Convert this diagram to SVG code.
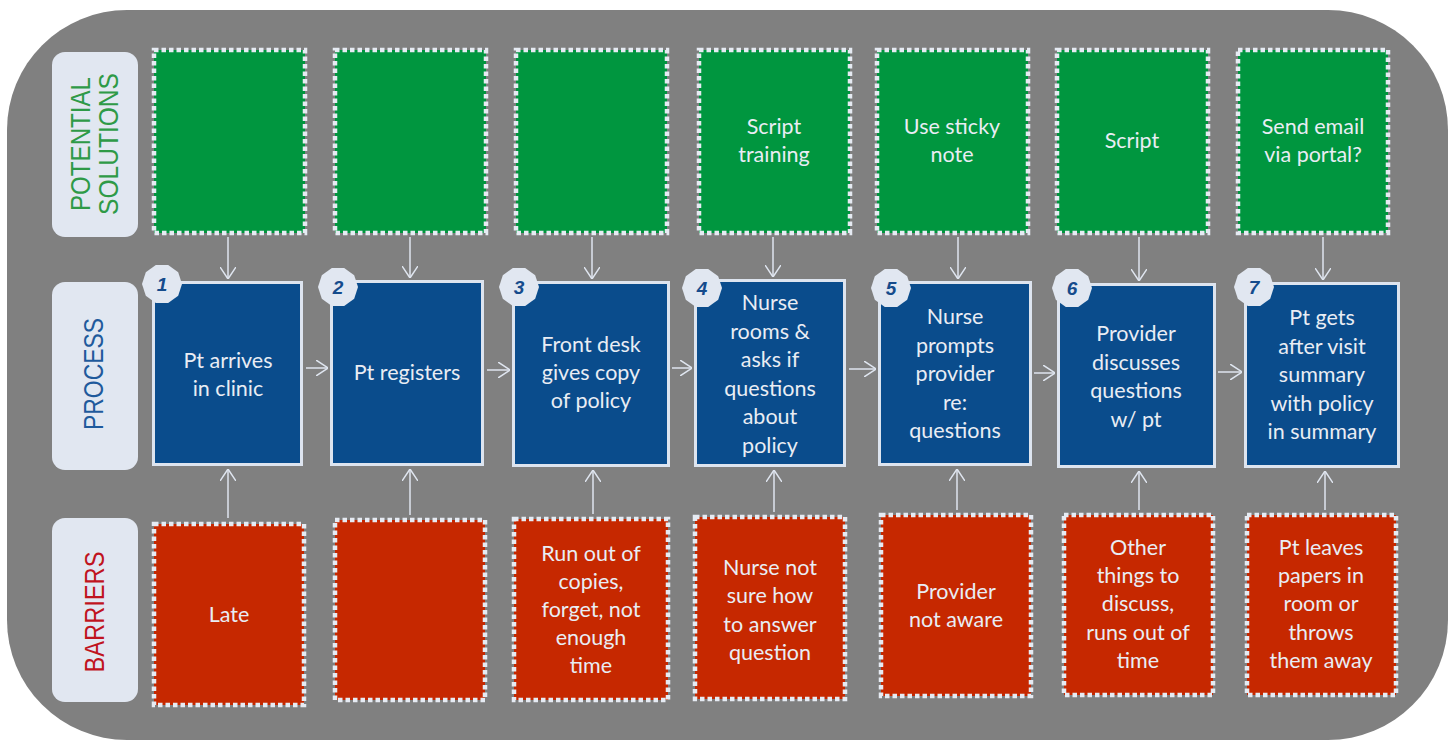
<svg xmlns="http://www.w3.org/2000/svg" width="1455" height="740" viewBox="0 0 1455 740">
<defs>
<style>
.sol{fill:#00963f;stroke:#e6ebf3;stroke-width:4.5;stroke-dasharray:4.5 3}
.bar{fill:#c62800;stroke:#e6ebf3;stroke-width:4.5;stroke-dasharray:4.5 3}
.proc{fill:#0a4c8c;stroke:#dde4ef;stroke-width:3}
.panel{fill:#e1e7f1}
.t{font-family:Lato,"Liberation Sans",sans-serif;font-size:21.5px;fill:#e9edf4;text-anchor:middle}
.lbl{font-family:"Liberation Sans",Arial,sans-serif;font-size:27px;text-anchor:middle}
.badge{fill:#e1e7f1}
.num{font-family:"Liberation Sans",Arial,sans-serif;font-size:19px;font-weight:bold;font-style:italic;fill:#154b8c;text-anchor:middle}
.c{stroke:#dfe5ef;stroke-width:1.5;fill:none;marker-end:url(#ah)}
</style>
<marker id="ah" viewBox="0 0 12 16" refX="12" refY="8" markerWidth="12" markerHeight="16" markerUnits="userSpaceOnUse" orient="auto">
<path d="M0,0 L12,8 L0,16" fill="none" stroke="#dfe5ef" stroke-width="1.5"/>
</marker>
<polygon id="bdg" points="20,0 16.2,11.8 6.2,19 -6.2,19 -16.2,11.8 -20,0 -16.2,-11.8 -6.2,-19 6.2,-19 16.2,-11.8" class="badge"/>
</defs>
<rect x="7" y="10" width="1441" height="730" rx="120" ry="120" fill="#808080"/>

<g id="label-solutions">
<rect class="panel" x="52" y="52" width="86" height="185" rx="13"/>
<text class="lbl" fill="#2e9a47" transform="translate(90,144) rotate(-90)" textLength="134" lengthAdjust="spacingAndGlyphs">POTENTIAL</text>
<text class="lbl" fill="#2e9a47" transform="translate(118,144) rotate(-90)" textLength="142" lengthAdjust="spacingAndGlyphs">SOLUTIONS</text>
</g>
<g id="label-process">
<rect class="panel" x="52" y="282" width="86" height="188" rx="13"/>
<text class="lbl" fill="#1f5a9c" transform="translate(103,374) rotate(-90)" textLength="112" lengthAdjust="spacingAndGlyphs">PROCESS</text>
</g>
<g id="label-barriers">
<rect class="panel" x="52" y="518" width="86" height="184" rx="13"/>
<text class="lbl" fill="#c0141e" transform="translate(104,612) rotate(-90)" textLength="121" lengthAdjust="spacingAndGlyphs">BARRIERS</text>
</g>

<g id="connectors">
<line class="c" x1="228" y1="237" x2="228" y2="279"/>
<line class="c" x1="410" y1="237" x2="410" y2="278"/>
<line class="c" x1="592" y1="237" x2="592" y2="279"/>
<line class="c" x1="773" y1="237" x2="773" y2="277"/>
<line class="c" x1="958" y1="237" x2="958" y2="279"/>
<line class="c" x1="1139" y1="237" x2="1139" y2="281"/>
<line class="c" x1="1323" y1="237" x2="1323" y2="280"/>

<line class="c" x1="228" y1="518" x2="228" y2="469"/>
<line class="c" x1="410" y1="515" x2="410" y2="469"/>
<line class="c" x1="593" y1="514" x2="593" y2="470"/>
<line class="c" x1="774" y1="512" x2="774" y2="470"/>
<line class="c" x1="957" y1="510" x2="957" y2="469"/>
<line class="c" x1="1139" y1="510" x2="1139" y2="471"/>
<line class="c" x1="1325" y1="510" x2="1325" y2="471"/>

<line class="c" x1="306" y1="368" x2="328" y2="368"/>
<line class="c" x1="487" y1="370" x2="510" y2="370"/>
<line class="c" x1="672" y1="368" x2="692" y2="368"/>
<line class="c" x1="849" y1="369" x2="876" y2="369"/>
<line class="c" x1="1034" y1="373" x2="1055" y2="373"/>
<line class="c" x1="1218" y1="372" x2="1242" y2="372"/>
</g>

<g id="sol1"><rect class="sol" x="154" y="50" width="151" height="183"/></g>
<g id="sol2"><rect class="sol" x="335" y="50" width="151" height="183"/></g>
<g id="sol3"><rect class="sol" x="516" y="50" width="151" height="183"/></g>
<g id="sol4"><rect class="sol" x="699" y="50" width="151" height="183"/>
<text class="t" x="774" y="134">Script</text><text class="t" x="774" y="162">training</text></g>
<g id="sol5"><rect class="sol" x="877" y="50" width="151" height="183"/>
<text class="t" x="952" y="134">Use sticky</text><text class="t" x="952" y="162">note</text></g>
<g id="sol6"><rect class="sol" x="1057" y="50" width="151" height="183"/>
<text class="t" x="1132" y="148">Script</text></g>
<g id="sol7"><rect class="sol" x="1238" y="50" width="150" height="183"/>
<text class="t" x="1313" y="134">Send email</text><text class="t" x="1313" y="162">via portal?</text></g>

<g id="proc1"><rect class="proc" x="153.5" y="282.5" width="148" height="182"/>
<text class="t" x="228" y="368">Pt arrives</text><text class="t" x="228" y="396">in clinic</text>
<use href="#bdg" x="162" y="284"/><text class="num" x="162" y="291">1</text></g>
<g id="proc2"><rect class="proc" x="331.5" y="281.5" width="151" height="183"/>
<text class="t" x="407" y="380">Pt registers</text>
<use href="#bdg" x="338" y="287"/><text class="num" x="338" y="294">2</text></g>
<g id="proc3"><rect class="proc" x="513.5" y="282.5" width="155" height="183"/>
<text class="t" x="591" y="352">Front desk</text><text class="t" x="591" y="380">gives copy</text><text class="t" x="591" y="408">of policy</text>
<use href="#bdg" x="519" y="287"/><text class="num" x="519" y="294">3</text></g>
<g id="proc4"><rect class="proc" x="695.5" y="280.5" width="149" height="185"/>
<text class="t" x="770" y="310">Nurse</text><text class="t" x="770" y="338.5">rooms &amp;</text><text class="t" x="770" y="367">asks if</text><text class="t" x="770" y="395.5">questions</text><text class="t" x="770" y="424">about</text><text class="t" x="770" y="452.5">policy</text>
<use href="#bdg" x="702" y="288"/><text class="num" x="702" y="295">4</text></g>
<g id="proc5"><rect class="proc" x="879.5" y="282.5" width="151" height="182"/>
<text class="t" x="955" y="324">Nurse</text><text class="t" x="955" y="352.5">prompts</text><text class="t" x="955" y="381">provider</text><text class="t" x="955" y="409.5">re:</text><text class="t" x="955" y="438">questions</text>
<use href="#bdg" x="891" y="288"/><text class="num" x="891" y="295">5</text></g>
<g id="proc6"><rect class="proc" x="1058.5" y="284.5" width="156" height="182"/>
<text class="t" x="1136" y="341">Provider</text><text class="t" x="1136" y="369.5">discusses</text><text class="t" x="1136" y="398">questions</text><text class="t" x="1136" y="426.5">w/ pt</text>
<use href="#bdg" x="1072" y="288"/><text class="num" x="1072" y="295">6</text></g>
<g id="proc7"><rect class="proc" x="1245.5" y="283.5" width="153" height="183"/>
<text class="t" x="1322" y="325">Pt gets</text><text class="t" x="1322" y="353.5">after visit</text><text class="t" x="1322" y="382">summary</text><text class="t" x="1322" y="410.5">with policy</text><text class="t" x="1322" y="439">in summary</text>
<use href="#bdg" x="1254" y="287"/><text class="num" x="1254" y="294">7</text></g>

<g id="bar1"><rect class="bar" x="154" y="524" width="150" height="181"/>
<text class="t" x="229" y="622">Late</text></g>
<g id="bar2"><rect class="bar" x="335" y="520" width="150" height="180"/></g>
<g id="bar3"><rect class="bar" x="514" y="519" width="154" height="181"/>
<text class="t" x="591" y="561">Run out of</text><text class="t" x="591" y="589">copies,</text><text class="t" x="591" y="617">forget, not</text><text class="t" x="591" y="645">enough</text><text class="t" x="591" y="673">time</text></g>
<g id="bar4"><rect class="bar" x="695" y="517" width="150" height="182"/>
<text class="t" x="770" y="575">Nurse not</text><text class="t" x="770" y="603">sure how</text><text class="t" x="770" y="632">to answer</text><text class="t" x="770" y="660">question</text></g>
<g id="bar5"><rect class="bar" x="881" y="515" width="150" height="181"/>
<text class="t" x="956" y="599">Provider</text><text class="t" x="956" y="627">not aware</text></g>
<g id="bar6"><rect class="bar" x="1064" y="515" width="149" height="180"/>
<text class="t" x="1138" y="555">Other</text><text class="t" x="1138" y="583">things to</text><text class="t" x="1138" y="611">discuss,</text><text class="t" x="1138" y="640">runs out of</text><text class="t" x="1138" y="668">time</text></g>
<g id="bar7"><rect class="bar" x="1247" y="515" width="149" height="180"/>
<text class="t" x="1321" y="555">Pt leaves</text><text class="t" x="1321" y="583">papers in</text><text class="t" x="1321" y="611">room or</text><text class="t" x="1321" y="640">throws</text><text class="t" x="1321" y="668">them away</text></g>
</svg>
